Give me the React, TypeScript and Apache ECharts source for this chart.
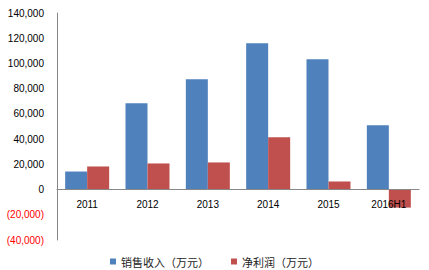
import React, { useEffect, useRef } from "react";
import * as echarts from "echarts";

const categories = ["2011", "2012", "2013", "2014", "2015", "2016H1"];
const salesRevenue = [14300, 68400, 87500, 116100, 103400, 50900];
const netProfit = [18300, 20700, 21500, 41400, 6400, -14300];
const seriesNames = ["销售收入（万元）", "净利润（万元）"];

function fmt(v: number): string {
  const s = Math.abs(v).toLocaleString("en-US");
  return v < 0 ? "(" + s + ")" : s;
}

export default function App() {
  const ref = useRef<HTMLDivElement>(null);
  useEffect(() => {
    if (!ref.current) return;
    const chart = echarts.init(ref.current, null, { renderer: "svg" });
    chart.setOption({
      animation: false,
      backgroundColor: "#ffffff",
      textStyle: { fontFamily: "Liberation Sans" },
      grid: { left: 57, right: 10, top: 13, bottom: 30, containLabel: false },
      legend: {
        bottom: -2,
        left: "center",
        itemWidth: 6,
        itemHeight: 6,
        itemGap: 22,
        icon: "rect",
        textStyle: { fontSize: 11, color: "#222", fontFamily: "Noto Sans CJK SC" },
        data: seriesNames,
      },
      xAxis: {
        type: "category",
        data: categories,
        offset: -50.5,
        axisLine: { onZero: false, lineStyle: { color: "#888", width: 1 } },
        axisTick: { show: false },
        axisLabel: { color: "#000", fontSize: 10, margin: 10 },
        z: 5,
      },
      yAxis: {
        type: "value",
        min: -40000,
        max: 140000,
        interval: 20000,
        axisLine: { show: true, lineStyle: { color: "#888", width: 1 } },
        axisTick: { show: false },
        splitLine: { show: false },
        axisLabel: {
          fontSize: 10,
          margin: 13,
          formatter: (v: number) => fmt(v),
          color: (v: any) => (Number(v) < 0 ? "#ff0000" : "#000000"),
        },
      },
      series: [
        {
          name: seriesNames[0],
          type: "bar",
          data: salesRevenue,
          barWidth: 22,
          barGap: "0%",
          itemStyle: { color: "#4F81BD" },
        },
        {
          name: seriesNames[1],
          type: "bar",
          data: netProfit,
          barWidth: 22,
          barGap: "0%",
          itemStyle: { color: "#C0504D" },
        },
      ],
    });
    return () => chart.dispose();
  }, []);
  return (
    <div
      ref={ref}
      style={{ position: "fixed", left: 0, top: 0, width: 429, height: 270 }}
    />
  );
}
